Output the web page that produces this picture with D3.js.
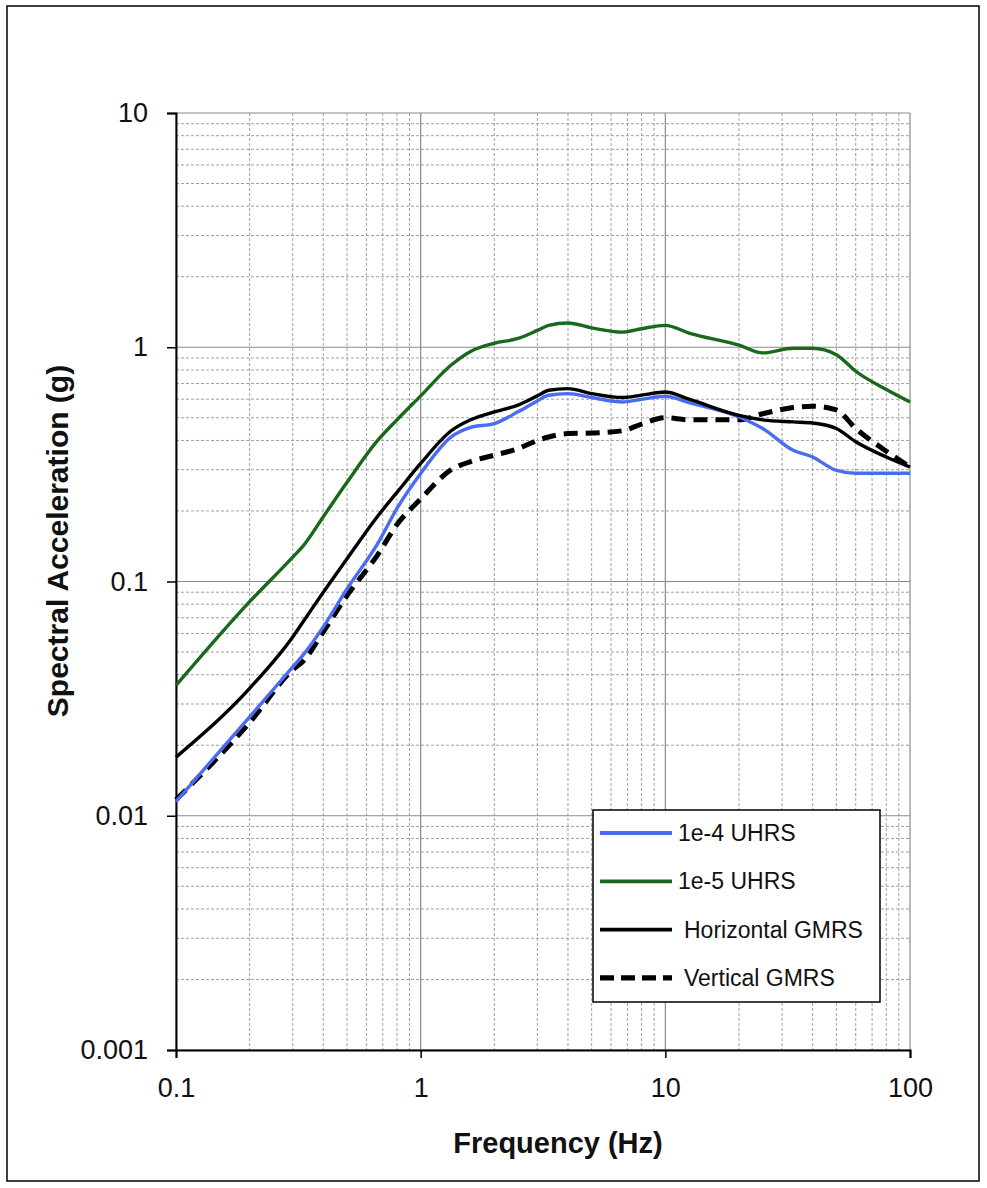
<!DOCTYPE html>
<html>
<head>
<meta charset="utf-8">
<script src="https://cdnjs.cloudflare.com/ajax/libs/d3/7.8.5/d3.min.js"></script>
<style>
  body { margin: 0; background: #fff; }
  svg text { font-family: "Liberation Sans", Arial, sans-serif; }
</style>
</head>
<body>
<div id="chart"></div>
<script>
// frequencies (Hz) shared by all spectra
let freqs = [0.1, 0.2, 0.3, 0.333, 0.4, 0.5, 0.667, 0.8, 1, 1.333, 1.6, 2, 2.5, 3, 3.333,
    4, 5, 6.667, 8, 10, 12.5, 20, 25, 33.3, 40, 50, 60, 80, 100];

// spectral acceleration (g)
let uhrs4 = [0.0115, 0.0264, 0.0432, 0.049, 0.064, 0.093, 0.145, 0.205, 0.289, 0.414, 0.455,
    0.472, 0.53, 0.59, 0.624, 0.634, 0.61, 0.584, 0.6, 0.618, 0.58, 0.504, 0.45, 0.363,
    0.34, 0.298, 0.29, 0.29, 0.29];
let uhrs5 = [0.036, 0.082, 0.127, 0.143, 0.189, 0.265, 0.40, 0.49, 0.62, 0.84, 0.96,
    1.04, 1.09, 1.18, 1.24, 1.27, 1.21, 1.16, 1.2, 1.24, 1.15, 1.02, 0.946, 0.99,
    0.99, 0.93, 0.79, 0.66, 0.584];
let hGmrs = [0.0178, 0.035, 0.058, 0.068, 0.090, 0.125, 0.19, 0.24, 0.319, 0.44, 0.49,
    0.53, 0.566, 0.62, 0.655, 0.666, 0.634, 0.61, 0.625, 0.644, 0.60, 0.512, 0.49, 0.48,
    0.475, 0.45, 0.395, 0.34, 0.308];
let vGmrs = [0.0117, 0.025, 0.042, 0.046, 0.061, 0.087, 0.13, 0.175, 0.225, 0.30, 0.325,
    0.346, 0.369, 0.40, 0.414, 0.428, 0.43, 0.44, 0.47, 0.50, 0.49, 0.49, 0.52, 0.553,
    0.56, 0.54, 0.45, 0.36, 0.308];

let seriesNames = ["1e-4 UHRS", "1e-5 UHRS", "Horizontal GMRS", "Vertical GMRS"];
let xTicks = [0.1, 1, 10, 100];
let yTicks = [0.001, 0.01, 0.1, 1, 10];

let width = 987, height = 1188;
let plotLeft = 176, plotRight = 910, plotTop = 113, plotBottom = 1050;

let svg = d3.select('#chart').append('svg')
    .attr('width', width)
    .attr('height', height);

// outer frame
svg.append('rect')
    .attr('x', 7).attr('y', 6)
    .attr('width', 972).attr('height', 1175)
    .attr('fill', 'none')
    .attr('stroke', '#000')
    .attr('stroke-width', 1.5);

let x = d3.scaleLog().domain([0.1, 100]).range([plotLeft, plotRight]);
let y = d3.scaleLog().domain([0.001, 10]).range([plotBottom, plotTop]);

//----------------------------------------
// grid: minor dashed, major solid
let minorX = [], minorY = [];
[0.1, 1, 10].forEach(function(d) {
    for (let k = 2; k <= 9; k++) minorX.push(d * k);
});
[0.001, 0.01, 0.1, 1].forEach(function(d) {
    for (let k = 2; k <= 9; k++) minorY.push(d * k);
});

let grid = svg.append('g');
grid.selectAll('.mx').data(minorX).enter().append('line')
    .attr('x1', d => x(d)).attr('x2', d => x(d))
    .attr('y1', plotTop).attr('y2', plotBottom)
    .attr('stroke', '#a0a0a0').attr('stroke-dasharray', '3,2');
grid.selectAll('.my').data(minorY).enter().append('line')
    .attr('x1', plotLeft).attr('x2', plotRight)
    .attr('y1', d => y(d)).attr('y2', d => y(d))
    .attr('stroke', '#a0a0a0').attr('stroke-dasharray', '3,2');
grid.selectAll('.Mx').data(xTicks).enter().append('line')
    .attr('x1', d => x(d)).attr('x2', d => x(d))
    .attr('y1', plotTop).attr('y2', plotBottom)
    .attr('stroke', '#8a8a8a').attr('stroke-width', 1.2);
grid.selectAll('.My').data(yTicks).enter().append('line')
    .attr('x1', plotLeft).attr('x2', plotRight)
    .attr('y1', d => y(d)).attr('y2', d => y(d))
    .attr('stroke', '#8a8a8a').attr('stroke-width', 1.2);

//----------------------------------------
// axes
let xAxis = svg.append('g')
    .attr('transform', 'translate(0,' + plotBottom + ')')
    .call(d3.axisBottom(x).tickValues(xTicks).tickFormat(d3.format('')).tickSize(8).tickPadding(20));
let yAxis = svg.append('g')
    .attr('transform', 'translate(' + plotLeft + ',0)')
    .call(d3.axisLeft(y).tickValues(yTicks).tickFormat(d3.format('')).tickSize(9).tickPadding(19));

[xAxis, yAxis].forEach(function(a) {
    a.select('.domain').attr('stroke', '#000').attr('stroke-width', 2);
    a.selectAll('.tick line').attr('stroke', '#000').attr('stroke-width', 1.5);
    a.selectAll('.tick text')
        .attr('fill', '#111')
        .style('font-size', '27px')
        .style('font-family', '"Liberation Sans", Arial, sans-serif');
});

//----------------------------------------
// the spectra
let line = d3.line()
    .x(d => x(d[0]))
    .y(d => y(d[1]))
    .curve(d3.curveMonotoneX);

let styles = [
    {color: '#4a6cf2', width: 3.4, dash: null},
    {color: '#19691d', width: 3.4, dash: null},
    {color: '#000000', width: 3.4, dash: null},
    {color: '#000000', width: 5, dash: '14,8'}
];
let allSeries = [uhrs4, uhrs5, hGmrs, vGmrs];
let drawOrder = [3, 1, 0, 2];

drawOrder.forEach(function(i) {
    svg.append('path')
        .datum(freqs.map((f, j) => [f, allSeries[i][j]]))
        .attr('d', line)
        .attr('fill', 'none')
        .attr('stroke', styles[i].color)
        .attr('stroke-width', styles[i].width)
        .attr('stroke-dasharray', styles[i].dash);
});

//----------------------------------------
// legend
let legend = svg.append('g');
legend.append('rect')
    .attr('x', 593).attr('y', 810)
    .attr('width', 287).attr('height', 192)
    .attr('fill', '#fff')
    .attr('stroke', '#000')
    .attr('stroke-width', 1.5);

let textX = [678, 678, 684, 684];
seriesNames.forEach(function(name, i) {
    let ly = 833 + i * 48.3;
    legend.append('line')
        .attr('x1', 600).attr('x2', 672)
        .attr('y1', ly).attr('y2', ly)
        .attr('stroke', styles[i].color)
        .attr('stroke-width', styles[i].width + 0.4)
        .attr('stroke-dasharray', styles[i].dash ? '14,7' : null);
    legend.append('text')
        .attr('x', textX[i]).attr('y', ly + 8)
        .style('font-size', '23px')
        .attr('fill', '#111')
        .text(name);
});

//----------------------------------------
// axis titles
svg.append('text')
    .attr('x', 558).attr('y', 1153)
    .attr('text-anchor', 'middle')
    .style('font-size', '29px')
    .style('font-weight', 'bold')
    .attr('fill', '#111')
    .text('Frequency (Hz)');

svg.append('text')
    .attr('transform', 'translate(68,541) rotate(-90)')
    .attr('text-anchor', 'middle')
    .style('font-size', '30px')
    .style('font-weight', 'bold')
    .attr('fill', '#111')
    .text('Spectral Acceleration (g)');
</script>
</body>
</html>
